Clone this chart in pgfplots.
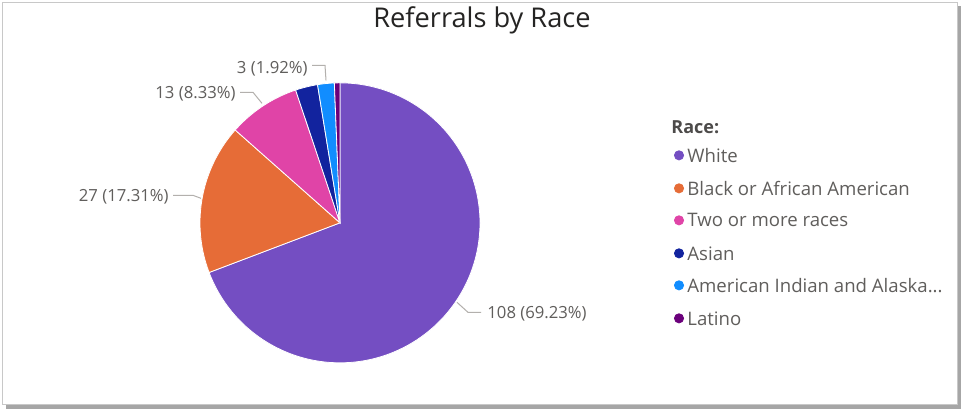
\documentclass[border=0pt]{standalone}
\usepackage{pgfplots}
\usepackage{pgfplotstable}
\pgfplotsset{compat=1.18}
\usepackage{fontspec}
\setmainfont{Open Sans}

\definecolor{cW}{HTML}{744EC2}
\definecolor{cB}{HTML}{E66C37}
\definecolor{cT}{HTML}{E044A7}
\definecolor{cA}{HTML}{12239E}
\definecolor{cI}{HTML}{118DFF}
\definecolor{cL}{HTML}{6B007B}
\definecolor{lbl}{HTML}{605E5C}
\definecolor{ttl}{HTML}{252423}
\definecolor{lead}{HTML}{B3B0AD}
\definecolor{frame}{HTML}{C8C8C8}
\definecolor{shadow}{HTML}{A6A6A6}

\pgfplotstableread[col sep=comma]{
race,value
White,108
Black or African American,27
Two or more races,13
Asian,4
American Indian and Alaska Native,3
Latino,1
}\racedata

\pgfplotstablegetelem{0}{value}\of\racedata\edef\vA{\pgfplotsretval}
\pgfplotstablegetelem{1}{value}\of\racedata\edef\vB{\pgfplotsretval}
\pgfplotstablegetelem{2}{value}\of\racedata\edef\vC{\pgfplotsretval}
\pgfplotstablegetelem{3}{value}\of\racedata\edef\vD{\pgfplotsretval}
\pgfplotstablegetelem{4}{value}\of\racedata\edef\vE{\pgfplotsretval}
\pgfplotstablegetelem{5}{value}\of\racedata\edef\vF{\pgfplotsretval}
\pgfmathsetmacro\tot{\vA+\vB+\vC+\vD+\vE+\vF}
\pgfmathsetmacro\eA{\vA/\tot*360}
\pgfmathsetmacro\eB{\eA+\vB/\tot*360}
\pgfmathsetmacro\eC{\eB+\vC/\tot*360}
\pgfmathsetmacro\eD{\eC+\vD/\tot*360}
\pgfmathsetmacro\eE{\eD+\vE/\tot*360}
\pgfmathsetmacro\eF{\eE+\vF/\tot*360}

% pie geometry in pixel units
\def\cx{340}\def\cy{222.5}\def\rr{140}

\begin{document}
\begin{tikzpicture}
\begin{axis}[
  xmin=0, xmax=962, ymin=0, ymax=409, y dir=reverse,
  width=481pt, height=204.5pt, scale only axis, hide axis, clip=false,
  samples=120, variable=\t,
]
% canvas & frame
\path (axis cs:0,0) rectangle (axis cs:962,409);
\fill[shadow] (axis cs:6,6) rectangle (axis cs:961,408.5);
\fill[white, draw=frame, line width=0.5pt] (axis cs:2,2) rectangle (axis cs:957,404);

% title
\node[text=ttl, font=\fontsize{13.6}{16}\selectfont] at (axis cs:482,20) {Referrals by Race};

% pie wedges (clockwise from 12 o'clock)
\addplot[fill=cW, draw=white, line width=0.4pt, domain=0:\eA] ({\cx+\rr*sin(\t)},{\cy-\rr*cos(\t)}) -- (axis cs:\cx,\cy) -- cycle;
\addplot[fill=cB, draw=white, line width=0.4pt, domain=\eA:\eB] ({\cx+\rr*sin(\t)},{\cy-\rr*cos(\t)}) -- (axis cs:\cx,\cy) -- cycle;
\addplot[fill=cT, draw=white, line width=0.4pt, domain=\eB:\eC] ({\cx+\rr*sin(\t)},{\cy-\rr*cos(\t)}) -- (axis cs:\cx,\cy) -- cycle;
\addplot[fill=cA, draw=white, line width=0.4pt, domain=\eC:\eD] ({\cx+\rr*sin(\t)},{\cy-\rr*cos(\t)}) -- (axis cs:\cx,\cy) -- cycle;
\addplot[fill=cI, draw=white, line width=0.4pt, domain=\eD:\eE] ({\cx+\rr*sin(\t)},{\cy-\rr*cos(\t)}) -- (axis cs:\cx,\cy) -- cycle;
\addplot[fill=cL, draw=white, line width=0.4pt, domain=\eE:\eF] ({\cx+\rr*sin(\t)},{\cy-\rr*cos(\t)}) -- (axis cs:\cx,\cy) -- cycle;

% leader lines
\addplot[lead, line width=0.5pt, mark=none] coordinates {(457,302) (468,312) (481,312)};
\addplot[lead, line width=0.5pt, mark=none] coordinates {(173,195) (193,195) (201,198)};
\addplot[lead, line width=0.5pt, mark=none] coordinates {(240,92) (253,92) (262,103)};
\addplot[lead, line width=0.5pt, mark=none] coordinates {(312,65) (325,65) (326,80)};

% data labels
\begin{scope}[every node/.style={text=lbl, font=\fontsize{8.35}{10}\selectfont, inner sep=0pt}]
\node[anchor=west] at (axis cs:487,313) {108 (69.23\%)};
\node[anchor=east] at (axis cs:169,196) {27 (17.31\%)};
\node[anchor=east] at (axis cs:236,93) {13 (8.33\%)};
\node[anchor=east] at (axis cs:308,68) {3 (1.92\%)};
\end{scope}

% legend
\node[anchor=west, inner sep=0pt, text=lbl!80!black, font=\fontsize{9}{11}\selectfont\bfseries] at (axis cs:671,127) {Race:};
\addplot[only marks, mark=*, mark size=2.3pt, color=cW] coordinates {(679,155)};
\addplot[only marks, mark=*, mark size=2.3pt, color=cB] coordinates {(679,188)};
\addplot[only marks, mark=*, mark size=2.3pt, color=cT] coordinates {(679,220)};
\addplot[only marks, mark=*, mark size=2.3pt, color=cA] coordinates {(679,253)};
\addplot[only marks, mark=*, mark size=2.3pt, color=cI] coordinates {(679,285)};
\addplot[only marks, mark=*, mark size=2.3pt, color=cL] coordinates {(679,318)};
\begin{scope}[every node/.style={anchor=west, text=lbl, font=\fontsize{9.3}{11}\selectfont, inner sep=0pt}]
\node at (axis cs:687,155) {White};
\node at (axis cs:687,188) {Black or African American};
\node at (axis cs:687,220) {Two or more races};
\node at (axis cs:687,253) {Asian};
\node at (axis cs:687,285) {American Indian and Alaska...};
\node at (axis cs:687,318) {Latino};
\end{scope}
\end{axis}
\end{tikzpicture}
\end{document}
